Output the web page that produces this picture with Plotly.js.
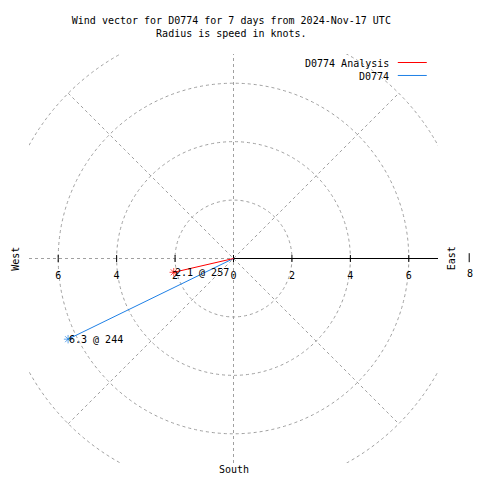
<!DOCTYPE html>
<html><head><meta charset="utf-8">
<script src="https://cdn.plot.ly/plotly-3.0.1.min.js"></script>
<style>html,body{margin:0;padding:0;background:#fff}</style>
</head><body><div id="chart" style="width:480px;height:480px"></div>
<script>
const seriesNames = ['D0774 Analysis', 'D0774'];
const speeds = [2.1, 6.3];
const directions = [257, 244];
const seriesColors = ['#ff0000', '#1e80e6'];
const ringRadii = [2, 4, 6, 8];
const tickVals = [-6, -4, -2, 0, 2, 4, 6];
const tickLabels = ['6', '4', '2', '0', '2', '4', '6'];
const outerTickLabel = '8';

const FONT = 'DejaVu Sans Mono, Liberation Mono, monospace';
const R = 7;
const GRID = '#a0a0a0';
const DASH = '3px,3px';
const OUTER = ringRadii[ringRadii.length - 1];
const D = OUTER / Math.SQRT2;

const traces = [];
const vectorLabels = [];
// draw the second series first so the analysis vector sits on top
for (let k = seriesNames.length - 1; k >= 0; k--) {
  const rad = directions[k] * Math.PI / 180;
  const ex = speeds[k] * Math.sin(rad);
  const ey = speeds[k] * Math.cos(rad);
  traces.push({
    type: 'scatter',
    name: seriesNames[k],
    x: [0, ex],
    y: [0, ey],
    mode: 'lines+markers',
    line: {color: seriesColors[k], width: 1},
    marker: {symbol: 'asterisk-open', size: [0, 7], color: seriesColors[k], line: {color: seriesColors[k], width: 1}},
    hoverinfo: 'skip',
    showlegend: false
  });
  vectorLabels.push({xref: 'x', yref: 'y', x: ex, y: ey, text: speeds[k].toFixed(1) + ' @ ' + directions[k],
    showarrow: false, xanchor: 'left', yanchor: 'middle', xshift: -1,
    font: {family: FONT, size: 10, color: '#000'}});
}

const shapes = [];
ringRadii.forEach(r => shapes.push({type: 'circle', xref: 'x', yref: 'y', x0: -r, x1: r, y0: -r, y1: r,
  line: {color: GRID, width: 1, dash: DASH}, layer: 'below'}));
shapes.push({type: 'line', xref: 'x', yref: 'y', x0: -D, y0: -D, x1: D, y1: D, line: {color: GRID, width: 1, dash: DASH}, layer: 'below'});
shapes.push({type: 'line', xref: 'x', yref: 'y', x0: -D, y0: D, x1: D, y1: -D, line: {color: GRID, width: 1, dash: DASH}, layer: 'below'});
shapes.push({type: 'line', xref: 'x', yref: 'y', x0: 0, y0: -R, x1: 0, y1: R, line: {color: GRID, width: 1, dash: DASH}, layer: 'below'});
shapes.push({type: 'line', xref: 'x', yref: 'y', x0: -R, y0: 0, x1: 0, y1: 0, line: {color: GRID, width: 1, dash: DASH}, layer: 'below'});
shapes.push({type: 'line', xref: 'x', yref: 'y', x0: 0, y0: 0, x1: R, y1: 0, line: {color: '#000', width: 1}, layer: 'below'});
tickVals.forEach(v => shapes.push({type: 'line', xref: 'x', yref: 'y', x0: v, x1: v, y0: -0.12, y1: 0.12,
  line: {color: '#000', width: 1}, layer: 'below'}));
shapes.push({type: 'line', xref: 'paper', yref: 'paper', x0: 1.0763, x1: 1.0763, y0: 0.491, y1: 0.513, line: {color: '#000', width: 1}});
// legend keys
shapes.push({type: 'line', xref: 'paper', yref: 'paper', x0: 0.9017, x1: 0.9725, y0: 0.9792, y1: 0.9792, line: {color: seriesColors[0], width: 1}});
shapes.push({type: 'line', xref: 'paper', yref: 'paper', x0: 0.9017, x1: 0.9725, y0: 0.9475, y1: 0.9475, line: {color: seriesColors[1], width: 1}});

const annFont = {family: FONT, size: 10, color: '#000'};
const annotations = [
  {xref: 'paper', yref: 'paper', x: -0.0336, y: 0.5, text: 'West', textangle: -90, showarrow: false, font: annFont, xanchor: 'center', yanchor: 'middle'},
  {xref: 'paper', yref: 'paper', x: 1.0336, y: 0.5, text: 'East', textangle: -90, showarrow: false, font: annFont, xanchor: 'center', yanchor: 'middle'},
  {xref: 'paper', yref: 'paper', x: 0.501, y: -0.017, text: 'South', showarrow: false, font: annFont, xanchor: 'center', yanchor: 'middle'},
  {xref: 'paper', yref: 'paper', x: 1.0775, y: 0.464, text: outerTickLabel, showarrow: false, font: annFont, xanchor: 'center', yanchor: 'middle'},
  {xref: 'paper', yref: 'paper', x: 0.8846, y: 0.9768, text: seriesNames[0], showarrow: false, font: annFont, xanchor: 'right', yanchor: 'middle'},
  {xref: 'paper', yref: 'paper', x: 0.8846, y: 0.946, text: seriesNames[1], showarrow: false, font: annFont, xanchor: 'right', yanchor: 'middle'}
].concat(vectorLabels);

const layout = {
  width: 480, height: 480,
  margin: {l: 28.75, r: 41.75, t: 53.5, b: 17, pad: 0},
  paper_bgcolor: '#fff', plot_bgcolor: '#fff',
  title: {text: 'Wind vector for D0774 for 7 days from 2024-Nov-17 UTC<br>Radius is speed in knots.',
    font: {family: FONT, size: 10, color: '#000'}, x: 0.482, xref: 'container', xanchor: 'center',
    y: 0.95, yref: 'container', yanchor: 'top'},
  showlegend: false,
  xaxis: {range: [-R, R], domain: [0, 1], anchor: 'free', position: 0.5, showgrid: false, zeroline: false, showline: false,
    tickvals: tickVals, ticktext: tickLabels, ticks: '', ticklabelstandoff: 9,
    tickfont: {family: FONT, size: 10, color: '#000'}, fixedrange: true},
  yaxis: {range: [-R, R], visible: false, showgrid: false, zeroline: false, fixedrange: true},
  shapes: shapes,
  annotations: annotations
};

Plotly.newPlot('chart', traces, layout, {staticPlot: true, displayModeBar: false});
</script>
</body></html>
